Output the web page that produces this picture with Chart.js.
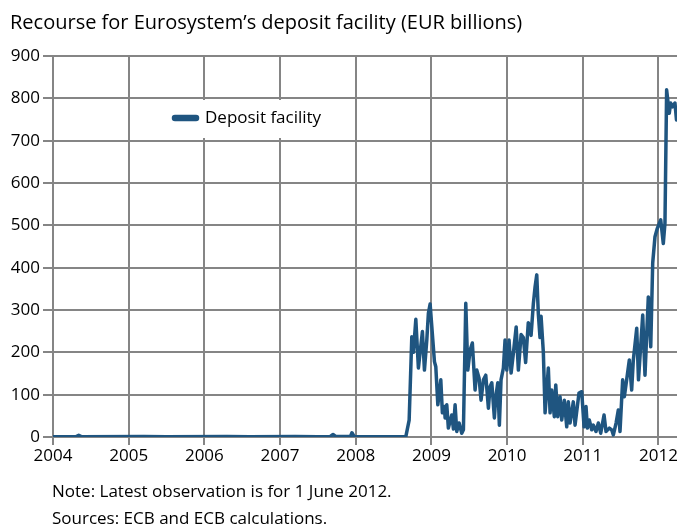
<!DOCTYPE html>
<html>
<head>
<meta charset="utf-8">
<script src="https://cdn.jsdelivr.net/npm/chart.js@4.4.1/dist/chart.umd.min.js"></script>
<style>
    body { margin: 0; background: #fff; font-family: "Open Sans", sans-serif; color: #000; }
    #wrap { position: relative; width: 677px; height: 526px; overflow: hidden; }
    #chart { position: absolute; left: 0; top: 0; }
    .txt { position: absolute; white-space: nowrap; }
    #title { left: 10px; top: 8px; font-size: 20px; }
    #note { left: 52px; top: 479px; font-size: 17px; }
    #sources { left: 52px; top: 506px; font-size: 17px; }
</style>
</head>
<body>
<div id="wrap">
    <canvas id="chart" width="677" height="526"></canvas>
    <div id="title" class="txt">Recourse for Eurosystem’s deposit facility (EUR billions)</div>
    <div id="note" class="txt">Note: Latest observation is for 1 June 2012.</div>
    <div id="sources" class="txt">Sources: ECB and ECB calculations.</div>
</div>
<script>
// observation dates as decimal years
const obsDates = [
    2004.00, 2004.30, 2004.34, 2004.38, 2005.20, 2005.50, 2006.30, 2006.60, 2007.20, 2007.50,
    2007.66, 2007.70, 2007.74, 2007.93, 2007.95, 2007.98, 2008.30, 2008.662, 2008.706, 2008.741,
    2008.762, 2008.794, 2008.828, 2008.881, 2008.908, 2008.939, 2008.960, 2008.983, 2009.040, 2009.058,
    2009.085, 2009.124, 2009.145, 2009.172, 2009.181, 2009.203, 2009.224, 2009.269, 2009.291, 2009.313,
    2009.335, 2009.366, 2009.401, 2009.423, 2009.454, 2009.481, 2009.511, 2009.541, 2009.577, 2009.599,
    2009.630, 2009.656, 2009.687, 2009.718, 2009.753, 2009.775, 2009.798, 2009.832, 2009.851, 2009.877,
    2009.898, 2009.920, 2009.951, 2009.973, 2009.996, 2010.026, 2010.053, 2010.083, 2010.120, 2010.149,
    2010.185, 2010.215, 2010.245, 2010.280, 2010.317, 2010.347, 2010.370, 2010.392, 2010.413, 2010.435,
    2010.449, 2010.479, 2010.502, 2010.545, 2010.568, 2010.590, 2010.624, 2010.643, 2010.669, 2010.700,
    2010.722, 2010.756, 2010.788, 2010.809, 2010.832, 2010.875, 2010.898, 2010.950, 2010.986, 2011.017,
    2011.043, 2011.061, 2011.087, 2011.118, 2011.140, 2011.175, 2011.206, 2011.237, 2011.281, 2011.307,
    2011.351, 2011.382, 2011.404, 2011.440, 2011.470, 2011.492, 2011.527, 2011.549, 2011.580, 2011.615,
    2011.646, 2011.668, 2011.713, 2011.736, 2011.792, 2011.822, 2011.866, 2011.898, 2011.924, 2011.954,
    2011.985, 2012.030, 2012.064, 2012.086, 2012.108, 2012.143, 2012.161, 2012.188, 2012.218, 2012.238
];
// deposit facility, EUR billions
const depositValues = [
    0.5, 0.5, 4, 0.5, 1, 0.5, 1, 0.5, 1, 0.5,
    1, 6, 1, 1, 10, 1, 0.5, 1, 40, 237,
    200, 278, 163, 249, 158, 229, 292, 314, 178, 166,
    76, 135, 57, 72, 45, 76, 21, 52, 19, 76,
    13, 33, 9, 17, 316, 158, 205, 222, 111, 158,
    139, 87, 135, 146, 68, 119, 128, 45, 95, 128,
    28, 135, 163, 229, 158, 229, 151, 198, 260, 158,
    242, 235, 176, 270, 240, 315, 355, 383, 290, 235,
    285, 200, 57, 163, 57, 111, 48, 123, 48, 95,
    40, 87, 24, 83, 33, 83, 28, 104, 107, 24,
    72, 21, 40, 17, 28, 13, 33, 9, 52, 13,
    21, 17, 5, 33, 64, 13, 135, 95, 135, 182,
    111, 182, 257, 135, 288, 146, 331, 213, 411, 473,
    493, 513, 457, 505, 820, 765, 789, 780, 789, 749
];
const seriesName = "Deposit facility";
const yearTicks = [2004, 2005, 2006, 2007, 2008, 2009, 2010, 2011, 2012];

const lineColor = "#1f5580";
const gridColor = "#858585";

// white box behind the legend, drawn over the grid
const legendBox = {
    id: "legendBox",
    beforeDatasetsDraw(chart) {
        const ctx = chart.ctx;
        ctx.save();
        ctx.fillStyle = "#fff";
        ctx.fillRect(150, 100, 200, 38);
        ctx.strokeStyle = lineColor;
        ctx.lineWidth = 6.5;
        ctx.lineCap = "round";
        ctx.beginPath();
        ctx.moveTo(175, 118);
        ctx.lineTo(196, 118);
        ctx.stroke();
        ctx.fillStyle = "#000";
        ctx.font = "17px 'Open Sans'";
        ctx.textBaseline = "middle";
        ctx.fillText(chart.data.datasets[0].label, 205, 118);
        ctx.restore();
    },
};

new Chart(document.getElementById("chart"), {
    type: "line",
    data: {
        datasets: [{
            label: seriesName,
            data: obsDates.map((d, i) => ({ x: d, y: depositValues[i] })),
            borderColor: lineColor,
            borderWidth: 3.5,
            pointRadius: 0,
            tension: 0,
            borderJoinStyle: "round",
            borderCapStyle: "round",
        }],
    },
    options: {
        responsive: false,
        animation: false,
        layout: { padding: { top: 56, right: 0, bottom: 0, left: 0 } },
        plugins: { legend: { display: false }, tooltip: { enabled: false } },
        scales: {
            x: {
                type: "linear",
                min: 2004,
                max: 2012.245,
                afterBuildTicks: (scale) => {
                    scale.ticks = yearTicks.map((v) => ({ value: v }));
                },
                afterFit: (scale) => {
                    scale.height = 89;
                    scale.paddingLeft = 0;
                    scale.paddingRight = 0;
                },
                ticks: {
                    font: { family: "Open Sans", size: 17 },
                    color: "#000",
                    padding: 1,
                    maxRotation: 0,
                    callback: (v) => String(v),
                },
                grid: { color: gridColor, lineWidth: 2, tickLength: 8 },
                border: { color: gridColor, width: 2 },
            },
            y: {
                min: 0,
                max: 900,
                afterFit: (scale) => { scale.width = 53; },
                ticks: {
                    stepSize: 100,
                    font: { family: "Open Sans", size: 17 },
                    color: "#000",
                    padding: 3,
                },
                grid: { color: gridColor, lineWidth: 2, tickLength: 10 },
                border: { color: gridColor, width: 2 },
            },
        },
    },
    plugins: [legendBox],
});
</script>
</body>
</html>
